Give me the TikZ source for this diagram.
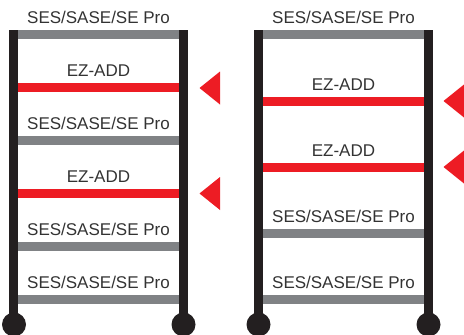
\documentclass[tikz,border=0pt]{standalone}
\usepackage{fontspec}
\setmainfont{Liberation Sans}
\definecolor{rackblack}{HTML}{231F20}
\definecolor{shelfgray}{HTML}{808285}
\definecolor{addred}{HTML}{ED1C24}
\definecolor{labelgray}{HTML}{333333}

\begin{document}
\begin{tikzpicture}[x=1pt, y=-1pt,
	post/.style={line width=9pt, rackblack},
	shelf/.style={line width=9pt, shelfgray},
	ezshelf/.style={line width=9pt, addred},
	wheel/.style={fill=rackblack},
	marker/.style={fill=addred},
	every node/.style={anchor=base, inner sep=0pt, text=labelgray, font=\fontsize{17}{20}\selectfont},]

\useasboundingbox (0,0) rectangle (464,335);

% left rack
\draw[post] (13.5,30) -- (13.5,324);
\draw[post] (183.5,30) -- (183.5,324);
\fill[wheel] (14,324.5) circle (12);
\fill[wheel] (183.5,324.5) circle (12);

\draw[shelf] (18,34.5) -- (179,34.5);
\draw[ezshelf] (18,87.5) -- (179,87.5);
\draw[shelf] (18,140.5) -- (179,140.5);
\draw[ezshelf] (18,193.5) -- (179,193.5);
\draw[shelf] (18,246.5) -- (179,246.5);
\draw[shelf] (18,299.5) -- (179,299.5);

\node (left ses a) at (98.5,23) {SES/SASE/SE Pro};
\node (left ez a) at (98.5,76) {EZ-ADD};
\node (left ses b) at (98.5,129) {SES/SASE/SE Pro};
\node (left ez b) at (98.5,182) {EZ-ADD};
\node (left ses c) at (98.5,235) {SES/SASE/SE Pro};
\node (left ses d) at (98.5,288) {SES/SASE/SE Pro};

\fill[marker] (199.5,88) -- (220,71.5) -- (220,104.5) -- cycle;
\fill[marker] (199.5,193.5) -- (220,177) -- (220,210) -- cycle;

% right rack
\draw[post] (258.5,30) -- (258.5,324);
\draw[post] (428.5,30) -- (428.5,324);
\fill[wheel] (258.5,324.5) circle (12);
\fill[wheel] (428.5,324.5) circle (12);

\draw[shelf] (263,34.5) -- (424,34.5);
\draw[ezshelf] (263,101.5) -- (424,101.5);
\draw[ezshelf] (263,167.5) -- (424,167.5);
\draw[shelf] (263,233.5) -- (424,233.5);
\draw[shelf] (263,299.5) -- (424,299.5);

\node (right ses a) at (343.5,23) {SES/SASE/SE Pro};
\node (right ez a) at (343.5,90) {EZ-ADD};
\node (right ez b) at (343.5,156) {EZ-ADD};
\node (right ses b) at (343.5,222) {SES/SASE/SE Pro};
\node (right ses c) at (343.5,288) {SES/SASE/SE Pro};

\fill[marker] (443.5,101) -- (464,84.5) -- (464,117.5) -- cycle;
\fill[marker] (443.5,167) -- (464,150.5) -- (464,183.5) -- cycle;
\end{tikzpicture}
\end{document}
